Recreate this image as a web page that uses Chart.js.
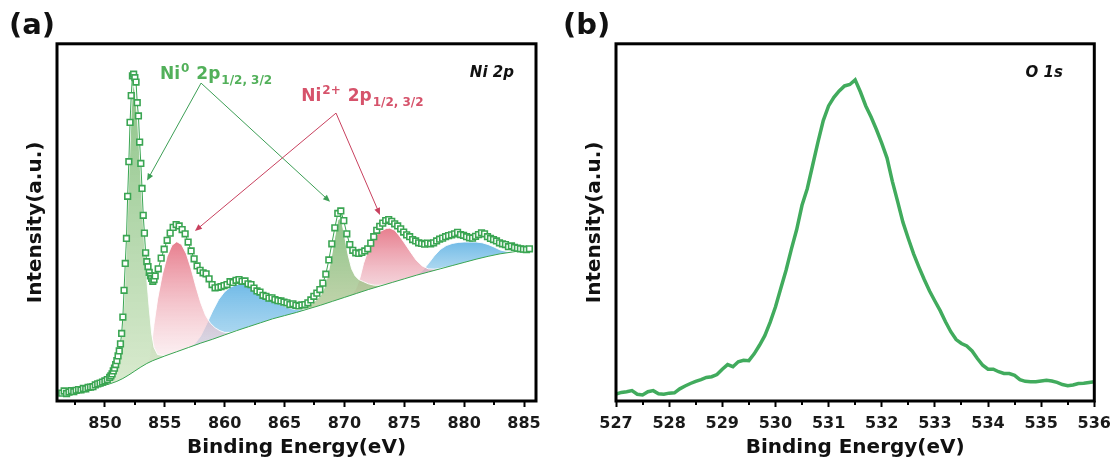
<!DOCTYPE html>
<html>
<head>
<meta charset="utf-8">
<script src="https://cdn.jsdelivr.net/npm/chart.js@4.4.1/dist/chart.umd.min.js"></script>
<style>
  body { margin: 0; background: #fff; width: 1118px; height: 465px; overflow: hidden; position: relative; }
  canvas { position: absolute; top: 0; }
  #chartA { left: 0; }
  #chartB { left: 559px; }
</style>
</head>
<body>
<canvas id="chartA" width="559" height="465"></canvas>
<canvas id="chartB" width="559" height="465"></canvas>
<script>
// Ni 2p spectrum, [binding energy (eV), intensity (a.u.)]
const niSpectrum = [
  [846.4, 2.2], [846.6, 2.8], [846.8, 2.1], [847.0, 2.5], [847.2, 2.9], [847.4, 2.6], [847.6, 3.0],
  [847.8, 3.2], [848.0, 3.1], [848.2, 3.5], [848.4, 3.4], [848.6, 3.8], [848.8, 3.9], [849.0, 4.0],
  [849.2, 4.5], [849.4, 4.8], [849.6, 5.0], [849.8, 5.3], [850.0, 5.6], [850.2, 6.0], [850.4, 6.6],
  [850.5, 7.0], [850.6, 7.6], [850.7, 8.4], [850.8, 9.2], [850.9, 10.2], [851.0, 11.3], [851.1, 12.6],
  [851.2, 14.0], [851.3, 16.0], [851.4, 18.9], [851.5, 23.5], [851.6, 31.0], [851.7, 38.5], [851.8, 45.5],
  [851.9, 57.3], [852.0, 67.0], [852.1, 78.0], [852.2, 85.5], [852.3, 91.0], [852.4, 91.5], [852.5, 90.5],
  [852.6, 89.3], [852.7, 83.5], [852.8, 79.8], [852.9, 72.5], [853.0, 66.5], [853.1, 59.5], [853.2, 52.0],
  [853.3, 47.0], [853.4, 41.5], [853.5, 39.0], [853.6, 37.6], [853.7, 36.0], [853.8, 35.0], [853.9, 34.3],
  [854.0, 33.5], [854.1, 34.0], [854.2, 35.0],
  [854.45, 37.0], [854.7, 40.0], [854.95, 42.5], [855.2, 45.0], [855.45, 47.0], [855.7, 48.6], [855.95, 49.4],
  [856.2, 49.0], [856.45, 48.0], [856.7, 46.8], [856.95, 44.5], [857.2, 42.0], [857.45, 39.8], [857.7, 37.8],
  [857.95, 36.6], [858.2, 35.9], [858.45, 35.6], [858.7, 34.2], [858.95, 32.6], [859.2, 31.7], [859.45, 31.8],
  [859.7, 32.0], [859.95, 32.3], [860.2, 32.6], [860.45, 33.4], [860.7, 33.2], [860.95, 33.8], [861.2, 34.0],
  [861.45, 33.5], [861.7, 33.6], [861.95, 32.8], [862.2, 32.6], [862.45, 31.6], [862.7, 30.8], [862.95, 30.5],
  [863.2, 29.6], [863.45, 29.3], [863.7, 28.8], [863.95, 28.9], [864.2, 28.4], [864.45, 28.1], [864.7, 28.0],
  [864.95, 27.7], [865.2, 27.5], [865.45, 27.0], [865.7, 27.2], [865.95, 26.8], [866.2, 26.6], [866.45, 26.9],
  [866.7, 27.0], [866.95, 27.5], [867.2, 28.3], [867.45, 29.3], [867.7, 30.2], [867.95, 31.2], [868.2, 33.0],
  [868.45, 35.5], [868.7, 39.5], [868.95, 44.0], [869.2, 48.5], [869.45, 52.5], [869.7, 53.2], [869.95, 50.5],
  [870.2, 46.8], [870.45, 43.8], [870.7, 42.2], [870.95, 41.5], [871.2, 41.3], [871.45, 41.6], [871.7, 42.0],
  [871.95, 42.6], [872.2, 44.2], [872.45, 46.0], [872.7, 47.8], [872.95, 48.9], [873.2, 49.8], [873.45, 50.5],
  [873.7, 50.8], [873.95, 50.3], [874.2, 49.6], [874.45, 49.0], [874.7, 48.2], [874.95, 47.3], [875.2, 46.5],
  [875.45, 46.0], [875.7, 45.2], [875.95, 44.8], [876.2, 44.3], [876.45, 44.1], [876.7, 43.9], [876.95, 44.2],
  [877.2, 44.0], [877.45, 44.3], [877.7, 44.8], [877.95, 45.3], [878.2, 45.6], [878.45, 46.0], [878.7, 46.3],
  [878.95, 46.5], [879.2, 46.8], [879.45, 47.2], [879.7, 46.6], [879.95, 46.4], [880.2, 46.0], [880.45, 45.7],
  [880.7, 45.6], [880.95, 46.1], [881.2, 46.6], [881.45, 47.1], [881.7, 46.8], [881.95, 46.0], [882.2, 45.5],
  [882.45, 45.2], [882.7, 44.8], [882.95, 44.3], [883.2, 44.0], [883.45, 43.8], [883.7, 43.2], [883.95, 43.4],
  [884.2, 43.0], [884.45, 42.8], [884.7, 42.6], [884.95, 42.5], [885.2, 42.4], [885.45, 42.6]
];

// Shirley background
const niBackground = [
  [846.2, 2.3], [847, 2.6], [848, 3.1], [849, 3.7], [850, 4.4], [850.5, 4.9], [851, 5.5], [851.5, 6.3],
  [852, 7.3], [852.5, 8.4], [853, 9.5], [853.5, 10.5], [854, 11.3], [855, 12.6], [856, 13.8], [857, 15.0],
  [858, 16.2], [859, 17.3], [860, 18.5], [861, 19.7], [862, 20.8], [863, 21.9], [864, 23.0], [865, 23.9],
  [866, 24.8], [867, 25.8], [868, 26.8], [869, 27.9], [870, 29.0], [871, 30.1], [872, 31.2], [873, 32.2],
  [874, 33.2], [875, 34.2], [876, 35.2], [877, 36.1], [878, 37.0], [879, 37.9], [880, 38.8], [881, 39.7],
  [882, 40.5], [883, 41.2], [884, 41.7], [885, 42.2], [885.6, 42.4]
];

// fitted components (absolute, background included)
const ni0P32 = [
  [850.0, 4.4], [850.4, 5.6], [850.8, 8.2], [851.0, 10.3], [851.2, 13.2], [851.4, 17.5], [851.6, 28.0],
  [851.8, 43.0], [852.0, 63.0], [852.2, 81.0], [852.35, 89.0], [852.5, 87.0], [852.7, 80.0], [852.9, 69.0],
  [853.1, 56.0], [853.3, 44.0], [853.5, 34.0], [853.7, 26.0], [853.9, 19.0], [854.1, 15.0], [854.4, 13.0],
  [855.0, 12.7]
];
const ni2P32 = [
  [853.5, 10.5], [853.7, 12.0], [853.9, 16.0], [854.1, 21.5], [854.4, 28.5], [854.8, 35.5], [855.2, 40.5],
  [855.6, 43.6], [856.0, 44.6], [856.4, 43.8], [856.8, 41.2], [857.2, 37.0], [857.6, 32.0], [858.0, 27.5],
  [858.4, 24.0], [858.8, 21.8], [859.2, 20.5], [859.6, 19.7], [860.0, 19.2], [860.5, 19.2], [861.0, 19.7]
];
const niSat1 = [
  [857.0, 15.0], [857.5, 16.0], [858.0, 18.2], [858.5, 21.6], [859.0, 25.2], [859.5, 28.4], [860.0, 30.6],
  [860.5, 31.9], [861.0, 32.6], [861.5, 32.8], [862.0, 32.4], [862.5, 31.6], [863.0, 30.5], [863.5, 29.3],
  [864.0, 28.2], [864.5, 27.3], [865.0, 26.5], [865.5, 25.9], [866.0, 25.6], [866.5, 25.5], [867.0, 25.8]
];
const ni0P12 = [
  [866.0, 24.8], [866.5, 25.6], [867.0, 26.6], [867.5, 27.8], [868.0, 29.5], [868.3, 31.5], [868.6, 35.0],
  [868.9, 40.0], [869.2, 46.0], [869.45, 50.5], [869.6, 51.2], [869.8, 49.8], [870.0, 46.5], [870.3, 41.0],
  [870.6, 37.0], [870.9, 35.0], [871.2, 34.0], [871.6, 33.4], [872.0, 32.8], [872.5, 32.4], [873.0, 32.4],
  [873.5, 32.7]
];
const ni2P12 = [
  [870.5, 29.6], [870.8, 30.5], [871.0, 31.8], [871.3, 34.5], [871.6, 38.5], [872.0, 42.5], [872.5, 45.8],
  [873.0, 47.5], [873.5, 48.3], [873.8, 48.4], [874.2, 47.8], [874.6, 46.2], [875.0, 44.3], [875.5, 41.8],
  [876.0, 39.4], [876.5, 37.8], [877.0, 37.0], [877.5, 36.9], [878.0, 37.1], [878.5, 37.5]
];
const niSat2 = [
  [876.0, 35.2], [876.5, 36.4], [877.0, 38.4], [877.5, 40.6], [878.0, 42.4], [878.5, 43.5], [879.0, 44.1],
  [879.5, 44.4], [880.0, 44.5], [880.5, 44.5], [881.0, 44.5], [881.5, 44.3], [882.0, 43.8], [882.5, 43.1],
  [883.0, 42.3], [883.5, 41.9], [884.0, 41.7]
];

const niTicks = [850, 855, 860, 865, 870, 875, 880, 885];
const niMinor = [847.5, 852.5, 857.5, 862.5, 867.5, 872.5, 877.5, 882.5];

// O 1s spectrum
const oSpectrum = [
  [527.0, 1.9], [527.1, 2.4], [527.2, 2.6], [527.3, 2.9], [527.4, 1.9], [527.5, 1.7], [527.6, 2.6],
  [527.7, 2.9], [527.8, 2.0], [527.9, 1.9], [528.0, 2.2], [528.1, 2.3], [528.2, 3.4], [528.3, 4.2],
  [528.4, 4.9], [528.5, 5.5], [528.6, 6.0], [528.7, 6.6], [528.8, 6.8], [528.9, 7.4], [529.0, 8.9],
  [529.1, 10.2], [529.2, 9.6], [529.3, 11.0], [529.4, 11.4], [529.5, 11.3], [529.6, 13.2], [529.7, 15.6],
  [529.8, 18.3], [529.9, 22.0], [530.0, 26.3], [530.1, 31.5], [530.2, 36.6], [530.3, 42.5], [530.4, 48.0],
  [530.5, 54.8], [530.6, 59.5], [530.7, 66.0], [530.8, 72.5], [530.9, 78.5], [531.0, 82.6], [531.1, 85.0],
  [531.2, 86.8], [531.3, 88.2], [531.4, 88.6], [531.5, 89.9], [531.6, 86.5], [531.7, 82.6], [531.8, 79.5],
  [531.9, 76.0], [532.0, 72.2], [532.1, 68.0], [532.2, 61.5], [532.3, 55.8], [532.4, 50.0], [532.5, 45.5],
  [532.6, 41.2], [532.7, 37.5], [532.8, 34.0], [532.9, 30.8], [533.0, 28.0], [533.1, 25.3], [533.2, 22.2],
  [533.3, 19.4], [533.4, 17.2], [533.5, 16.1], [533.6, 15.4], [533.7, 14.0], [533.8, 11.9], [533.9, 10.0],
  [534.0, 8.9], [534.1, 8.9], [534.2, 8.2], [534.3, 7.7], [534.4, 7.7], [534.5, 7.2], [534.6, 6.0],
  [534.7, 5.5], [534.8, 5.4], [534.9, 5.4], [535.0, 5.6], [535.1, 5.8], [535.2, 5.6], [535.3, 5.2],
  [535.4, 4.6], [535.5, 4.3], [535.6, 4.5], [535.7, 4.9], [535.8, 5.0], [535.9, 5.2], [536.0, 5.4]
];

const oTicks = [527, 528, 529, 530, 531, 532, 533, 534, 535, 536];
const oMinor = [527.5, 528.5, 529.5, 530.5, 531.5, 532.5, 533.5, 534.5, 535.5];

const FONT = '"DejaVu Sans", sans-serif';
const GREEN = '#3aa552';

const pts = arr => arr.map(([x, y]) => ({ x, y }));

// vertical gradient from the peak top down to its foot
function peakFill(top, bottom) {
  return ctx => {
    const chart = ctx.chart;
    if (!chart.chartArea || !ctx.dataset) return top;
    const ys = ctx.dataset.data.map(p => p.y);
    const y = chart.scales.y;
    const g = chart.ctx.createLinearGradient(0, y.getPixelForValue(Math.max(...ys)), 0, y.getPixelForValue(Math.min(...ys)));
    g.addColorStop(0, top);
    g.addColorStop(1, bottom);
    return g;
  };
}

function component(data, top, bottom) {
  return {
    data: pts(data),
    borderColor: 'rgba(255,255,255,0.9)',
    borderWidth: 1,
    pointRadius: 0,
    fill: 1,
    backgroundColor: peakFill(top, bottom)
  };
}

function drawRich(ctx, x, y, parts, color) {
  ctx.fillStyle = color;
  ctx.textBaseline = 'alphabetic';
  ctx.textAlign = 'left';
  for (const [text, kind] of parts) {
    const size = kind === 0 ? 17 : 12;
    ctx.font = 'bold ' + size + 'px ' + FONT;
    ctx.fillText(text, x, y + (kind === -1 ? -7 : kind === 1 ? 5 : 0));
    x += ctx.measureText(text).width + 1;
  }
}

function drawArrow(ctx, x0, y0, x1, y1, color) {
  const ang = Math.atan2(y1 - y0, x1 - x0);
  ctx.strokeStyle = color;
  ctx.fillStyle = color;
  ctx.lineWidth = 1;
  ctx.beginPath();
  ctx.moveTo(x0, y0);
  ctx.lineTo(x1 - 5 * Math.cos(ang), y1 - 5 * Math.sin(ang));
  ctx.stroke();
  ctx.beginPath();
  ctx.moveTo(x1, y1);
  ctx.lineTo(x1 - 7 * Math.cos(ang) + 3 * Math.sin(ang), y1 - 7 * Math.sin(ang) - 3 * Math.cos(ang));
  ctx.lineTo(x1 - 7 * Math.cos(ang) - 3 * Math.sin(ang), y1 - 7 * Math.sin(ang) + 3 * Math.cos(ang));
  ctx.closePath();
  ctx.fill();
}

// frame, minor ticks and in-plot labels
const framePlugin = {
  id: 'frame',
  afterDraw(chart, args, opts) {
    const { ctx, chartArea: a, scales: { x, y } } = chart;
    ctx.save();
    ctx.strokeStyle = '#000';
    ctx.lineWidth = 2;
    for (const v of opts.minor) {
      const px = Math.round(x.getPixelForValue(v));
      ctx.beginPath();
      ctx.moveTo(px, a.bottom);
      ctx.lineTo(px, a.bottom + 4);
      ctx.stroke();
    }
    for (const ar of opts.arrows || []) {
      drawArrow(ctx, x.getPixelForValue(ar.from[0]), y.getPixelForValue(ar.from[1]),
        x.getPixelForValue(ar.to[0]), y.getPixelForValue(ar.to[1]), ar.color);
    }
    for (const t of opts.rich || []) {
      drawRich(ctx, x.getPixelForValue(t.at[0]), y.getPixelForValue(t.at[1]), t.parts, t.color);
    }
    ctx.font = 'italic bold 15px ' + FONT;
    ctx.fillStyle = '#111';
    ctx.textAlign = 'right';
    ctx.textBaseline = 'alphabetic';
    ctx.fillText(opts.tag.text, x.getPixelForValue(opts.tag.at[0]), y.getPixelForValue(opts.tag.at[1]));
    ctx.strokeStyle = '#000';
    ctx.lineWidth = 3;
    ctx.strokeRect(a.left, a.top, a.right - a.left, a.bottom - a.top);
    ctx.restore();
  }
};

function baseOptions(panel, ticks, range, pad, yTitlePad, frameOpts) {
  return {
    responsive: false,
    animation: false,
    devicePixelRatio: 1,
    layout: { padding: { left: pad.left, right: pad.right, top: 0, bottom: 0 } },
    elements: { line: { tension: 0 } },
    plugins: {
      legend: { display: false },
      tooltip: { enabled: false },
      title: {
        display: true, text: panel, align: 'start', color: '#111',
        font: { family: FONT, size: 29, weight: 'bold' },
        padding: { top: 9, bottom: 0 }
      },
      frame: frameOpts
    },
    scales: {
      x: {
        type: 'linear', min: range[0], max: range[1],
        afterBuildTicks: s => { s.ticks = ticks.map(value => ({ value })); },
        afterFit: s => { s.height = 64; },
        grid: { drawOnChartArea: false, drawTicks: true, tickLength: 6, tickWidth: 2, tickColor: '#000' },
        border: { display: false },
        ticks: { color: '#1a1a1a', font: { family: FONT, size: 16, weight: 'bold' }, padding: 7, maxRotation: 0, autoSkip: false },
        title: { display: true, text: 'Binding Energy(eV)', color: '#111', font: { family: FONT, size: 20, weight: 'bold' }, padding: { top: 0, bottom: 5 } }
      },
      y: {
        min: 0, max: 100,
        afterFit: s => { s.width = 57 - pad.left; },
        grid: { display: false },
        border: { display: false },
        ticks: { display: false },
        title: { display: true, text: 'Intensity(a.u.)', color: '#111', font: { family: FONT, size: 20, weight: 'bold' }, padding: { top: yTitlePad, bottom: 0 } }
      }
    }
  };
}

new Chart(document.getElementById('chartA'), {
  type: 'line',
  data: {
    datasets: [
      {
        data: pts(niSpectrum), borderColor: GREEN, borderWidth: 1, fill: false,
        pointStyle: 'rect', pointRadius: 4, pointBorderWidth: 1.6,
        pointBorderColor: GREEN, pointBackgroundColor: '#fff'
      },
      { data: pts(niBackground), borderColor: GREEN, borderWidth: 1, pointRadius: 0, fill: false },
      component(ni0P32, 'rgba(120,185,115,0.85)', 'rgba(200,225,185,0.7)'),
      component(ni2P32, 'rgba(228,108,126,0.88)', 'rgba(250,232,236,0.5)'),
      component(niSat1, 'rgba(95,178,228,0.88)', 'rgba(160,210,238,0.75)'),
      component(ni0P12, 'rgba(120,185,115,0.85)', 'rgba(175,198,145,0.75)'),
      component(ni2P12, 'rgba(228,108,126,0.88)', 'rgba(240,200,210,0.6)'),
      component(niSat2, 'rgba(95,178,228,0.88)', 'rgba(160,210,238,0.75)')
    ]
  },
  options: baseOptions('(a)', niTicks, [846, 886], { left: 9, right: 23 }, 15, {
    minor: niMinor,
    tag: { text: 'Ni 2p', at: [884.16, 90.7] },
    rich: [
      { at: [854.6, 90.2], color: '#52b05a', parts: [['Ni', 0], ['0', -1], [' 2p', 0], ['1/2, 3/2', 1]] },
      { at: [866.4, 84.0], color: '#d6536b', parts: [['Ni', 0], ['2+', -1], [' 2p', 0], ['1/2, 3/2', 1]] }
    ],
    arrows: [
      { from: [858.03, 89.0], to: [853.52, 61.7], color: '#3c9e55' },
      { from: [858.03, 89.0], to: [868.80, 55.8], color: '#3c9e55' },
      { from: [869.30, 80.6], to: [857.52, 47.6], color: '#c8405e' },
      { from: [869.30, 80.6], to: [872.97, 52.1], color: '#c8405e' }
    ]
  }),
  plugins: [framePlugin]
});

new Chart(document.getElementById('chartB'), {
  type: 'line',
  data: {
    datasets: [
      { data: pts(oSpectrum), borderColor: '#41ab5d', borderWidth: 3.5, pointRadius: 0, fill: false }
    ]
  },
  options: baseOptions('(b)', oTicks, [527, 536], { left: 4, right: 21 }, 20, {
    minor: oMinor,
    tag: { text: 'O 1s', at: [535.41, 90.7] }
  }),
  plugins: [framePlugin]
});
</script>
</body>
</html>
